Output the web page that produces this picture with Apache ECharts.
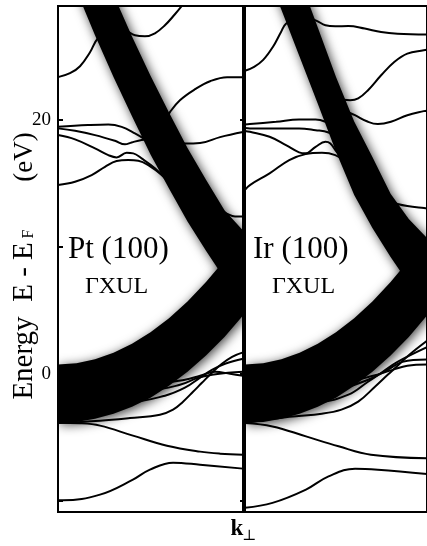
<!DOCTYPE html>
<html><head><meta charset="utf-8">
<script src="https://cdn.jsdelivr.net/npm/echarts@6/dist/echarts.min.js"></script>
<style>html,body{margin:0;padding:0;background:#fff}#c{width:427px;height:546px}</style>
</head><body><div id="c"></div>
<script>
// ---- data (k in units of the zone, E - E_F in eV) ----
const bandK = [0,0.1,0.2,0.3,0.4,0.5,0.6,0.7,0.8,0.9,1.0];
// broad final-state band edges (lower and back-folded upper branch)
const ptLowTop = [0.73,0.83,1.14,1.65,2.36,3.27,4.38,5.70,7.23,8.95,10.87];
const ptLowBot = [-3.87,-3.80,-3.55,-3.15,-2.60,-1.90,-0.95,0.15,1.45,2.90,4.60];
const ptUpTop  = [41.0,37.1,33.4,29.9,26.6,23.5,20.6,17.8,15.3,12.9,11.3];
const ptUpBot  = [33.9,30.2,26.7,23.4,20.3,17.3,14.6,12.0,9.7,7.5,5.5];
const irLowTop = [0.73,0.83,1.14,1.65,2.36,3.27,4.38,5.70,7.23,8.95,10.87];
const irLowBot = [-3.87,-3.80,-3.55,-3.15,-2.60,-1.90,-0.95,0.15,1.45,2.90,4.60];
const irUpTop  = [42.4,38.8,35.1,31.2,27.3,23.4,19.9,17.1,14.2,12.2,10.7];
const irUpBot  = [35.6,32.2,28.7,25.0,21.3,17.5,14.1,11.5,9.2,7.1,5.3];

// Pt(100) bands
const ptA = [[0,23.39],[0.065,23.70],[0.119,24.25],[0.173,25.35],[0.216,26.46],[0.29,27.2],[0.362,27.09],[0.416,26.69],[0.47,26.61],[0.524,26.85],[0.578,27.48],[0.632,28.35],[0.676,29.13]];
const ptB = [[0.562,19.61],[0.605,20.63],[0.659,21.57],[0.741,22.44],[0.822,23.07],[0.914,23.39],[1,23.39]];
const ptD = [[0.616,18.43],[0.686,18.15],[0.768,18.19],[0.876,18.66],[1,19.06]];
const ptE = [[0.795,13.31],[0.849,12.91],[0.903,12.68],[0.957,12.4],[1,12.4]];
const ptU1 = [[0,19.47],[0.162,19.61],[0.272,19.66],[0.344,19.47],[0.416,18.95],[0.47,18.48],[0.524,17.95]];
const ptU2 = [[0,19.35],[0.092,19.16],[0.2,18.82],[0.308,18.37],[0.362,18.09],[0.398,18.24],[0.452,18.43],[0.508,18.5]];
const ptU3 = [[0,18.82],[0.092,18.48],[0.2,17.77],[0.272,17.24],[0.317,17.06],[0.371,17.42],[0.407,17.38],[0.452,16.98],[0.524,16.2],[0.596,15.14],[0.669,13.96],[0.72,13.0]];
const ptU4 = [[0,14.88],[0.092,15.14],[0.182,15.67],[0.254,16.32],[0.317,16.77],[0.38,16.85],[0.434,16.8],[0.488,16.46],[0.561,15.67],[0.632,14.62],[0.7,13.4]];
const ptL1 = [[0,-9.98],[0.027,-9.98],[0.227,-9.53],[0.405,-8.35],[0.497,-7.56],[0.622,-7.01],[0.768,-7.17],[1,-7.48]];
const ptL2 = [[0,-3.86],[0.119,-3.90],[0.227,-4.09],[0.405,-4.88],[0.589,-5.67],[0.768,-6.14],[0.876,-6.30],[1,-6.38]];
const ptP1 = [[0,-3.88],[0.227,-3.70],[0.389,-3.49],[0.551,-3.23],[0.622,-2.83],[0.676,-2.20],[0.73,-1.42],[0.778,-0.71],[0.832,0.08],[0.886,0.79],[0.941,1.34],[1,1.69]];
const ptP2 = [[0,-2.05],[0.389,-2.20],[0.578,-1.73],[0.686,-1.10],[0.768,-0.31],[0.832,0.31],[0.903,0.79],[1,1.18]];
const ptP3 = [[0,-1.26],[0.497,-1.26],[0.659,-0.87],[0.757,-0.31],[0.832,-0.08],[0.919,0.08],[1,0.16]];
const ptP4 = [[0,-0.87],[0.551,-0.71],[0.686,-0.47],[0.768,-0.16],[0.849,0.16],[0.93,0.0],[1,-0.16]];

// Ir(100) bands
const irA = [[0,23.9],[0.05,24.2],[0.1,24.75],[0.153,25.77],[0.198,26.95],[0.225,27.6],[0.3,28.2],[0.388,27.87],[0.442,27.48],[0.496,27.4],[0.568,27.42],[0.658,27.22],[0.748,26.95],[0.838,26.82],[1,26.75]];
const irB = [[0.54,21.6],[0.577,21.57],[0.622,21.71],[0.676,22.36],[0.748,23.54],[0.82,24.59],[0.892,25.25],[0.982,25.51],[1,25.55]];
const irC = [[0.57,20.6],[0.604,20.39],[0.676,19.87],[0.73,19.69],[0.802,19.87],[0.892,20.39],[0.982,20.71],[1,20.75]];
const irE = [[0.811,13.54],[0.838,13.39],[0.892,13.23],[0.984,13.07],[1,13.05]];
const irU1 = [[0,19.65],[0.027,19.69],[0.171,19.87],[0.297,20.05],[0.388,20.05],[0.442,19.87],[0.477,19.53],[0.52,19.0]];
const irU2 = [[0,19.38],[0.027,19.35],[0.171,19.35],[0.297,19.35],[0.388,19.21],[0.459,19.03],[0.496,18.69],[0.54,18.2]];
const irU3 = [[0,19.15],[0.027,19.08],[0.135,18.69],[0.225,18.03],[0.297,17.46],[0.333,17.38],[0.388,17.9],[0.442,18.29],[0.469,18.16],[0.504,17.5],[0.568,16.58],[0.62,15.6]];
const irU4 = [[0,14.5],[0.027,14.88],[0.135,15.8],[0.243,16.85],[0.333,17.32],[0.423,17.42],[0.496,17.24],[0.55,16.72],[0.622,15.8],[0.68,14.6]];
const irL1 = [[0,-10.57],[0.151,-10.18],[0.335,-9.13],[0.459,-8.09],[0.605,-7.48],[0.73,-7.56],[1,-7.9]];
const irL2 = [[0,-3.88],[0.151,-4.15],[0.335,-4.94],[0.514,-5.72],[0.692,-6.38],[1,-6.66]];
const irP1 = [[0,-3.88],[0.243,-3.39],[0.422,-3.15],[0.53,-2.83],[0.622,-2.2],[0.714,-1.02],[0.784,-0.08],[0.838,0.63],[0.903,1.5],[1,2.6]];
const irP2 = [[0,-1.89],[0.405,-2.2],[0.568,-1.65],[0.676,-0.63],[0.757,0.16],[0.838,0.94],[1,2.1]];
const irP3 = [[0,-1.1],[0.514,-1.1],[0.676,-0.47],[0.784,0.31],[0.865,0.94],[1,1.12]];
const irP4 = [[0,-0.71],[0.541,-0.63],[0.703,-0.16],[0.811,0.31],[0.892,0.63],[1,0.73]];

const yTicks = [-10,0,10,20];
const yLabels = [0,20];
const panelTitles = ['Pt (100)','Ir (100)'];
const panelPath = 'ΓXUL';

// ---- chart ----
const SERIF = '"Liberation Serif","DejaVu Serif",serif';
const chart = echarts.init(document.getElementById('c'), null, {renderer:'canvas'});

function bandSeries(idx, top, bot) {
  return {
    type:'custom', xAxisIndex:idx, yAxisIndex:idx, clip:true, silent:true, z:1,
    data:[[bandK[0], top[0]]],
    renderItem:function(params, api){
      const pts = [];
      for (let i=0;i<bandK.length;i++) pts.push(api.coord([bandK[i], top[i]]));
      for (let i=bandK.length-1;i>=0;i--) pts.push(api.coord([bandK[i], bot[i]]));
      return {type:'polygon', shape:{points:pts},
        style:{fill:'#000', shadowBlur:11, shadowColor:'rgba(0,0,0,0.75)', shadowOffsetX:2, shadowOffsetY:2}};
    }
  };
}
function lineSeries(idx, data) {
  return {type:'line', xAxisIndex:idx, yAxisIndex:idx, data:data, showSymbol:false, symbol:'none',
    smooth:0.4, silent:true, z:3, clip:true,
    lineStyle:{color:'#000', width:2}};
}

const ptLines = [ptA,ptB,ptD,ptE,ptU1,ptU2,ptU3,ptU4,ptL1,ptL2,ptP1,ptP2,ptP3,ptP4];
const irLines = [irA,irB,irC,irE,irU1,irU2,irU3,irU4,irL1,irL2,irP1,irP2,irP3,irP4];

const series = [
  bandSeries(0, ptLowTop, ptLowBot), bandSeries(0, ptUpTop, ptUpBot),
  bandSeries(1, irLowTop, irLowBot), bandSeries(1, irUpTop, irUpBot)
].concat(ptLines.map(d=>lineSeries(0,d))).concat(irLines.map(d=>lineSeries(1,d)));

const gridStyle = {show:true, borderColor:'#000', borderWidth:2, backgroundColor:'transparent', containLabel:false};
const xAx = (i)=>({type:'value', gridIndex:i, min:0, max:1, axisLine:{show:false}, axisTick:{show:false}, axisLabel:{show:false}, splitLine:{show:false}});

chart.setOption({
  animation:false,
  backgroundColor:'#fff',
  grid:[
    Object.assign({left:58, top:6, width:185, height:506}, gridStyle),
    Object.assign({left:245, top:6, width:185, height:506}, gridStyle)
  ],
  xAxis:[xAx(0), xAx(1)],
  yAxis:[
    {type:'value', gridIndex:0, min:-10.9, max:29, position:'left',
     axisLine:{show:false}, splitLine:{show:false},
     axisTick:{show:true, inside:true, length:5, lineStyle:{color:'#000', width:2}, customValues:yTicks},
     axisLabel:{show:true, customValues:yLabels, color:'#000', fontFamily:SERIF, fontSize:19, margin:7}},
    {type:'value', gridIndex:1, min:-10.9, max:29, position:'right',
     axisLine:{show:false}, splitLine:{show:false},
     axisTick:{show:true, inside:true, length:5, lineStyle:{color:'#000', width:2}, customValues:yTicks},
     axisLabel:{show:false}}
  ],
  series:series,
  graphic:[
    {type:'text', x:68, y:249.5, z:10, style:{text:panelTitles[0], font:'31px '+SERIF, fill:'#000', align:'left', verticalAlign:'middle'}},
    {type:'text', x:116.5, y:287, z:10, style:{text:panelPath, font:'24px '+SERIF, fill:'#000', align:'center', verticalAlign:'middle'}},
    {type:'text', x:253, y:249.5, z:10, style:{text:panelTitles[1], font:'31px '+SERIF, fill:'#000', align:'left', verticalAlign:'middle'}},
    {type:'text', x:303.5, y:287, z:10, style:{text:panelPath, font:'24px '+SERIF, fill:'#000', align:'center', verticalAlign:'middle'}},
    {type:'text', x:24, y:358, rotation:Math.PI/2, style:{text:'Energy', font:'29px '+SERIF, fill:'#000', align:'center', verticalAlign:'middle'}},
    {type:'text', x:24, y:272, rotation:Math.PI/2, style:{text:'E - E', font:'29px '+SERIF, fill:'#000', align:'center', verticalAlign:'middle'}},
    {type:'text', x:29, y:234, rotation:Math.PI/2, style:{text:'F', font:'16px '+SERIF, fill:'#000', align:'center', verticalAlign:'middle'}},
    {type:'text', x:25, y:157, rotation:Math.PI/2, style:{text:'(eV)', font:'27px '+SERIF, fill:'#000', align:'center', verticalAlign:'middle'}},
    {type:'text', x:237, y:529.5, style:{text:'k', font:'bold 23px '+SERIF, fill:'#000', align:'center', verticalAlign:'middle'}},
    {type:'text', x:249, y:536, style:{text:'⊥', font:'15px "DejaVu Serif",serif', fill:'#000', align:'center', verticalAlign:'middle'}}
  ]
});
</script></body></html>
